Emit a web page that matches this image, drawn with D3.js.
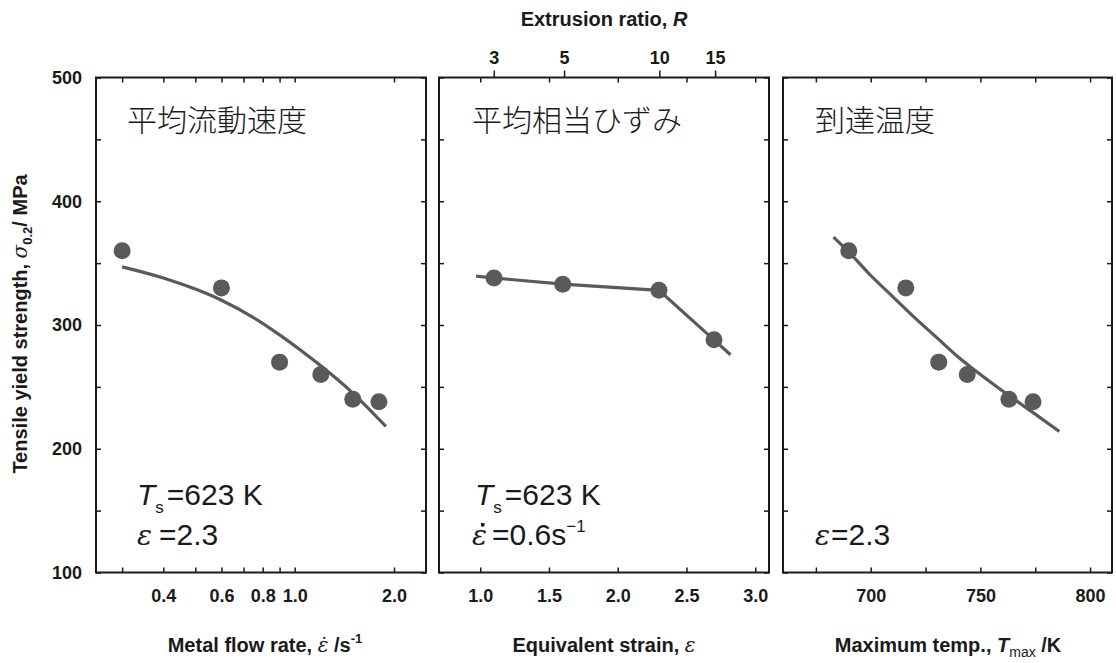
<!DOCTYPE html>
<html><head><meta charset="utf-8">
<script src="https://cdn.jsdelivr.net/npm/d3@7"></script>
<style>
body{margin:0;background:#fff;}
svg{display:block;}
text{font-family:"Liberation Sans",Arial,sans-serif;fill:#1a1a1a;}
</style>
</head><body>
<svg id="c" width="1116" height="663"></svg>
<script>
// ---- data ----
const yTickVals = [100,150,200,250,300,350,400,450,500];
const yTickLabels = [100,200,300,400,500];

const flowRate = [0.3, 0.6, 0.9, 1.2, 1.5, 1.8];
const strengthFlow = [360, 330, 270, 260, 240, 238];
const flowFitX = [0.3, 0.4, 0.5, 0.6, 0.75, 0.9, 1.05, 1.2, 1.5, 1.89];
const flowFitY = [347, 338, 329, 320, 306, 292, 279, 267, 245, 218];
const flowTicks = [0.3,0.4,0.5,0.6,0.7,0.8,0.9,1.0,2.0];
const flowTickLabels = [0.4,0.6,0.8,1.0,2.0];

const strain = [1.1, 1.6, 2.3, 2.7];
const strengthStrain = [338, 333, 328, 288];
const strainLineX = [0.97, 1.1, 1.6, 2.3, 2.7, 2.82];
const strainLineY = [339.5, 338, 333, 328, 288, 276];
const strainTicks = [1.0,1.5,2.0,2.5,3.0];
const ratioTicks = [3,5,10,15];

const maxTemp = [690, 716, 731, 744, 763, 774];
const strengthTemp = [360, 330, 270, 260, 240, 238];
const tempFitX = [683, 690, 700, 710, 720, 730, 740, 750, 763, 775, 786];
const tempFitY = [371, 359, 340, 323, 306, 290, 274, 260, 243, 228, 214];
const tempTicks = [675,700,725,750,775,800];
const tempTickLabels = [700,750,800];

// ---- layout ----
const svg = d3.select("#c");
const TOP = 77.5, BOT = 572.5;
const y = d3.scaleLinear().domain([100,500]).range([BOT, TOP]);
const GRAY = "#5a5a5a";

const panels = [
  {x0:96, x1:426, sc:d3.scaleLog().domain([0.25,2.5]), ticks:flowTicks, labels:flowTickLabels, fmt:d=>d.toFixed(1),
   pts:flowRate.map((v,i)=>[v,strengthFlow[i]]), line:flowFitX.map((v,i)=>[v,flowFitY[i]]), curve:d3.curveMonotoneX, ylab:true},
  {x0:439, x1:769, sc:d3.scaleLinear().domain([0.7,3.1]), ticks:strainTicks, labels:strainTicks, fmt:d=>d.toFixed(1),
   pts:strain.map((v,i)=>[v,strengthStrain[i]]), line:strainLineX.map((v,i)=>[v,strainLineY[i]]), curve:d3.curveLinear, ylab:false},
  {x0:783, x1:1112, sc:d3.scaleLinear().domain([660,810]), ticks:tempTicks, labels:tempTickLabels, fmt:d=>String(d),
   pts:maxTemp.map((v,i)=>[v,strengthTemp[i]]), line:tempFitX.map((v,i)=>[v,tempFitY[i]]), curve:d3.curveMonotoneX, ylab:false}
];

function styleAxis(g){
  g.select(".domain").remove();
  g.selectAll(".tick line").attr("stroke","#1a1a1a").attr("stroke-width",1.5);
  g.selectAll(".tick text").attr("fill","#1a1a1a").style("font-size","18px").style("font-weight","bold")
    .style("font-family","'Liberation Sans',Arial,sans-serif");
}

panels.forEach(p=>{
  p.sc.range([p.x0,p.x1]);
  const g = svg.append("g");
  g.append("g").attr("transform",`translate(0,${BOT})`)
    .call(d3.axisBottom(p.sc).tickValues(p.ticks).tickSize(-5).tickPadding(17)
      .tickFormat(d=>p.labels.some(l=>Math.abs(l-d)<1e-9)?p.fmt(d):""))
    .call(styleAxis);
  g.append("g").attr("transform",`translate(0,${TOP})`)
    .call(d3.axisTop(p.sc).tickValues(p.ticks).tickSize(-5).tickFormat(""))
    .call(styleAxis);
  g.append("g").attr("transform",`translate(${p.x0},0)`)
    .call(d3.axisLeft(y).tickValues(yTickVals).tickSize(-5).tickPadding(14)
      .tickFormat(d=>p.ylab && yTickLabels.includes(d)?String(d):""))
    .call(styleAxis);
  g.append("g").attr("transform",`translate(${p.x1},0)`)
    .call(d3.axisRight(y).tickValues(yTickVals).tickSize(-5).tickFormat(""))
    .call(styleAxis);
  g.append("rect").attr("x",p.x0).attr("y",TOP).attr("width",p.x1-p.x0).attr("height",BOT-TOP)
    .attr("fill","none").attr("stroke","#1a1a1a").attr("stroke-width",2);
  g.append("path").datum(p.line)
    .attr("d",d3.line().x(d=>p.sc(d[0])).y(d=>y(d[1])).curve(p.curve))
    .attr("fill","none").attr("stroke",GRAY).attr("stroke-width",3.2).attr("stroke-linecap","butt");
  g.selectAll("circle.pt").data(p.pts).join("circle").attr("class","pt")
    .attr("cx",d=>p.sc(d[0])).attr("cy",d=>y(d[1])).attr("r",8.5).attr("fill",GRAY);
});

// secondary top axis (extrusion ratio R, eps = ln R)
const p2 = panels[1];
svg.append("g").attr("transform",`translate(0,${TOP})`)
  .call(d3.axisTop(p2.sc).tickValues(ratioTicks.map(r=>Math.log(r))).tickSize(7).tickPadding(7)
    .tickFormat((d,i)=>String(ratioTicks[i])))
  .call(styleAxis);

// ---- titles ----
const serifIt = "'DejaVu Serif','Liberation Serif',serif";
const t1 = svg.append("text").attr("x",604).attr("y",26).attr("text-anchor","middle")
  .style("font-size","20px").style("font-weight","bold");
t1.append("tspan").text("Extrusion ratio, ");
t1.append("tspan").style("font-style","italic").text("R");

const yt = svg.append("text").attr("transform","translate(27,324) rotate(-90)").attr("text-anchor","middle")
  .style("font-size","20px").style("font-weight","bold");
yt.append("tspan").text("Tensile yield strength, ");
yt.append("tspan").style("font-style","italic").style("font-family",serifIt).style("font-weight","normal").text("σ");
yt.append("tspan").style("font-size","13px").attr("dy",5).text("0.2");
yt.append("tspan").attr("dy",-5).text("/ MPa");

const xt1 = svg.append("text").attr("x",265).attr("y",652).attr("text-anchor","middle")
  .style("font-size","20px").style("font-weight","bold");
xt1.append("tspan").text("Metal flow rate, ");
xt1.append("tspan").style("font-style","italic").style("font-family",serifIt).style("font-weight","normal").text("ε\u0307");
xt1.append("tspan").text(" /s");
xt1.append("tspan").style("font-size","13px").attr("dy",-9).text("-1");

const xt2 = svg.append("text").attr("x",604).attr("y",652).attr("text-anchor","middle")
  .style("font-size","20px").style("font-weight","bold");
xt2.append("tspan").text("Equivalent strain, ");
xt2.append("tspan").style("font-style","italic").style("font-family",serifIt).style("font-weight","normal").text("ε");

const xt3 = svg.append("text").attr("x",948).attr("y",652).attr("text-anchor","middle")
  .style("font-size","20px").style("font-weight","bold");
xt3.append("tspan").text("Maximum temp., ");
xt3.append("tspan").style("font-style","italic").text("T");
xt3.append("tspan").style("font-size","14px").style("font-weight","normal").attr("dy",5).text("max");
xt3.append("tspan").attr("dy",-5).text(" /K");

// ---- panel labels (Japanese) ----
const jp = "'Noto Sans CJK JP','Noto Sans CJK SC',sans-serif";
[["平均流動速度",127],["平均相当ひずみ",472],["到達温度",815]].forEach(([s,x])=>{
  svg.append("text").attr("x",x).attr("y",131).style("font-family",jp).style("font-size","30px")
    .style("font-weight","300").text(s);
});

// ---- annotations ----
function tsLine(x){
  const t = svg.append("text").attr("x",x).attr("y",505).style("font-size","30px");
  t.append("tspan").style("font-style","italic").text("T");
  t.append("tspan").style("font-size","17px").attr("dy",8).text("s");
  t.append("tspan").attr("dy",-8).attr("dx",3).text("=623 K");
}
tsLine(137); tsLine(475);

function epsLine(x, gap){
  const t = svg.append("text").attr("x",x).attr("y",545).style("font-size","30px");
  t.append("tspan").style("font-style","italic").style("font-family",serifIt).style("font-size","28px").text("ε");
  t.append("tspan").attr("dx",gap).text("=2.3");
}
epsLine(137, 7); epsLine(815, 1);

const rt = svg.append("text").attr("x",472).attr("y",545).style("font-size","30px");
rt.append("tspan").style("font-style","italic").style("font-family",serifIt).style("font-size","28px").text("ε");
rt.append("tspan").attr("dx",5).text("=0.6s");
rt.append("tspan").style("font-size","17px").attr("dy",-13).text("−1");
svg.append("rect").attr("x",481).attr("y",523).attr("width",3.5).attr("height",3.5).attr("fill","#1a1a1a");
</script>
</body></html>
